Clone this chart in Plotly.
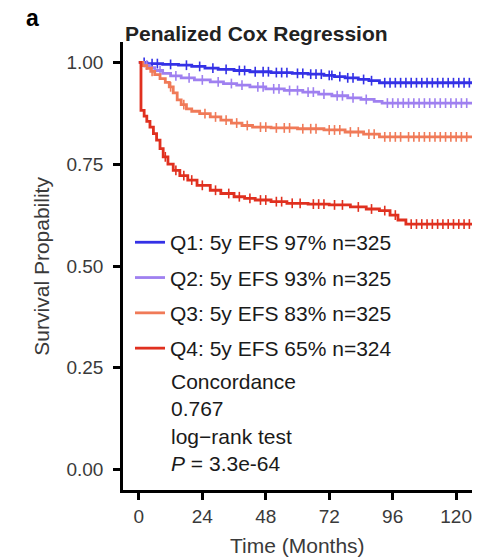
import numpy as np
import plotly.graph_objects as go

# Kaplan-Meier step curves (time in months, survival)
q1_time = [0, 3, 9, 15, 20, 25, 30, 36, 42, 50, 58, 64, 70, 74, 78, 83, 87, 91, 130]
q1_surv = [1.0, 0.997, 0.995, 0.993, 0.990, 0.986, 0.983, 0.980, 0.977, 0.975, 0.973,
           0.971, 0.968, 0.965, 0.962, 0.958, 0.955, 0.950, 0.950]

q2_time = [0, 2, 4, 6, 9, 12, 16, 21, 27, 32, 37, 42, 48, 55, 62, 68, 73, 79, 84, 89, 92, 130]
q2_surv = [1.0, 0.993, 0.987, 0.980, 0.973, 0.967, 0.962, 0.957, 0.952, 0.948, 0.944,
           0.940, 0.935, 0.931, 0.927, 0.922, 0.918, 0.913, 0.909, 0.904, 0.900, 0.900]

q3_time = [0, 1.5, 3, 4.5, 6, 8, 10, 11.5, 13, 14.5, 16, 18, 20, 23, 27, 31, 35, 39, 43,
           50, 60, 70, 78, 85, 91, 130]
q3_surv = [1.0, 0.992, 0.985, 0.978, 0.970, 0.960, 0.951, 0.940, 0.925, 0.908, 0.896,
           0.886, 0.880, 0.874, 0.866, 0.858, 0.851, 0.845, 0.841, 0.839, 0.837, 0.834,
           0.829, 0.824, 0.817, 0.815]

q4_time = [0, 0.8, 2, 3, 4.2, 5.5, 6.7, 8, 9.2, 11, 13, 15.5, 18.5, 22, 27, 31, 36, 40, 44,
           50, 56, 64, 72, 80, 86, 91, 95, 98, 101, 130]
q4_surv = [1.0, 0.882, 0.868, 0.855, 0.841, 0.825, 0.809, 0.788, 0.768, 0.750, 0.735,
           0.722, 0.711, 0.698, 0.686, 0.678, 0.670, 0.666, 0.662, 0.658, 0.654, 0.652,
           0.650, 0.645, 0.640, 0.636, 0.625, 0.613, 0.603, 0.603]

# censoring times (tick marks)
q1_cens = [2, 5, 7, 12, 18, 23, 28, 33, 38, 40, 44, 47, 49, 52, 54, 56, 60, 62, 65, 67,
           69, 72, 73, 76, 79, 81, 85, 88, 93, 95, 97, 99, 101, 103, 105, 107, 109, 111,
           113, 115, 117, 119, 121, 123, 125]
q2_cens = [3, 8, 14, 19, 24, 30, 35, 39, 45, 47, 51, 53, 57, 60, 64, 66, 70, 75, 77, 81,
           86, 94, 96, 98, 100, 102, 104, 106, 108, 110, 112, 114, 116, 118, 120, 122, 124]
q3_cens = [5, 12, 17, 25, 29, 33, 37, 41, 46, 48, 52, 55, 57, 62, 65, 67, 72, 74, 76, 80,
           83, 87, 89, 93, 95, 97, 99, 102, 104, 106, 108, 110, 112, 114, 116, 118, 120,
           122, 124]
q4_cens = [10, 14, 17, 20, 24, 29, 34, 38, 42, 46, 48, 52, 54, 58, 61, 66, 68, 70, 74, 77,
           83, 88, 93, 97, 103, 105, 107, 109, 111, 113, 115, 117, 119, 121, 123, 125]

labels = ["Q1: 5y EFS 97% n=325", "Q2: 5y EFS 93% n=325",
          "Q3: 5y EFS 83% n=325", "Q4: 5y EFS 65% n=324"]
colors = ["#3431E6", "#9F80F0", "#F07A58", "#E0301F"]

series = [(q1_time, q1_surv, q1_cens), (q2_time, q2_surv, q2_cens),
          (q3_time, q3_surv, q3_cens), (q4_time, q4_surv, q4_cens)]

FONT = "Liberation Sans, Arial, sans-serif"

fig = go.Figure()

for i, (t, s, c) in enumerate(series):
    fig.add_trace(go.Scatter(
        x=t, y=s, mode="lines", line_shape="hv",
        line=dict(color=colors[i], width=2.8),
        name=labels[i], legendgroup=labels[i]
    ))
    # survival at censor times = value of the step curve
    idx = np.searchsorted(t, c, side="right") - 1
    cy = np.array(s)[idx]
    fig.add_trace(go.Scatter(
        x=c, y=cy, mode="markers",
        marker=dict(symbol="line-ns", size=7, color=colors[i],
                    line=dict(color=colors[i], width=1.6)),
        showlegend=False, legendgroup=labels[i], hoverinfo="skip"
    ))

axis_common = dict(
    showgrid=False, zeroline=False, showline=True, linewidth=2.5, linecolor="black",
    ticks="outside", ticklen=7, tickwidth=2.5, tickcolor="black",
    tickfont=dict(family=FONT, size=19, color="#3a3a3a"),
)

fig.update_xaxes(range=[-6, 126], tickvals=[0, 24, 48, 72, 96, 120], **axis_common)
fig.update_yaxes(range=[-0.05, 1.05], tickvals=[0, 0.25, 0.5, 0.75, 1.0],
                 ticktext=["0.00", "0.25", "0.50", "0.75", "1.00"],
                 ticklabelstandoff=6, **axis_common)

fig.add_annotation(text="Concordance<br>0.767<br>log\u2212rank test<br><i>P</i> = 3.3e-64",
                   xref="paper", yref="paper", x=0.132, y=0.15, xanchor="left",
                   yanchor="middle", align="left", showarrow=False,
                   font=dict(family=FONT, size=21, color="#1a1a1a"))
fig.add_annotation(text="<b>Penalized Cox Regression</b>", xref="paper", yref="paper",
                   x=0, y=1.02, xanchor="left", yanchor="middle", showarrow=False,
                   font=dict(family=FONT, size=21, color="#222"))
fig.add_annotation(text="<b>a</b>", xref="paper", yref="paper", x=-0.26, y=1.054,
                   xanchor="center", yanchor="middle", showarrow=False,
                   font=dict(family=FONT, size=23, color="black"))
fig.add_annotation(text="Survival Propability", xref="paper", yref="paper",
                   x=-0.236, y=0.5, textangle=-90, xanchor="center", yanchor="middle",
                   showarrow=False, font=dict(family=FONT, size=21, color="#3a3a3a"))
fig.add_annotation(text="Time (Months)", xref="paper", yref="paper",
                   x=0.5, y=-0.123, xanchor="center", yanchor="middle",
                   showarrow=False, font=dict(family=FONT, size=21, color="#3a3a3a"))

fig.update_layout(
    width=487, height=559,
    margin=dict(l=123, r=15, t=42, b=69),
    plot_bgcolor="white", paper_bgcolor="white",
    showlegend=True,
    legend=dict(x=0.02, y=0.598, xanchor="left", yanchor="top",
                bgcolor="rgba(0,0,0,0)", tracegroupgap=5, itemwidth=30,
                font=dict(family=FONT, size=21, color="#1a1a1a")),
)

# drop the default 8px body margin so the figure sits at the page corner
fig.write_html("out.html", config={"displayModeBar": False},
               post_script="document.body.style.margin='0px';")
